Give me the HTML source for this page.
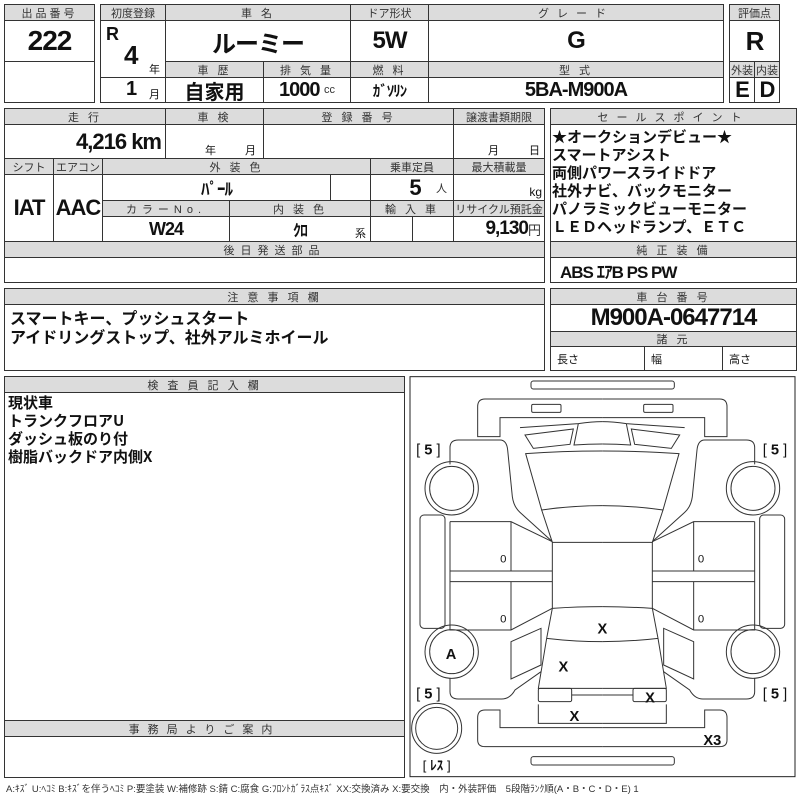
<!DOCTYPE html>
<html><head><meta charset="utf-8">
<style>
*{margin:0;padding:0;box-sizing:border-box}
body{width:800px;height:800px;background:#fff;position:relative;overflow:hidden;font-family:"Liberation Sans","Noto Sans CJK JP",sans-serif;color:#111}
.c{position:absolute;border:1px solid #333;display:flex;align-items:center;justify-content:center;white-space:nowrap;overflow:hidden}
.h{background:#dcdcdc;font-size:11px;color:#333;letter-spacing:3px}
.v{font-family:"Liberation Sans Narrow","Liberation Sans","Noto Sans CJK JP",sans-serif;font-weight:bold;font-size:22px;letter-spacing:-1px}
.s{font-size:11px;font-weight:normal;color:#333;letter-spacing:0}
.t{position:absolute;white-space:nowrap}
.jp{font-family:"Noto Sans CJK JP",sans-serif;font-weight:bold;font-size:16px;line-height:18px}
</style></head><body>
<div class="c h" style="left:4px;top:4px;width:91px;height:17px">出品番号</div>
<div class="c v" style="left:4px;top:20px;width:91px;height:42px;font-size:28px">222</div>
<div class="c" style="left:4px;top:61px;width:91px;height:42px"></div>
<div class="c h" style="left:100px;top:4px;width:66px;height:17px;letter-spacing:0">初度登録</div>
<div class="c h" style="left:165px;top:4px;width:186px;height:17px">車 名</div>
<div class="c h" style="left:350px;top:4px;width:79px;height:17px;letter-spacing:0">ドア形状</div>
<div class="c h" style="left:428px;top:4px;width:296px;height:17px;letter-spacing:8px">グレード</div>
<div class="c" style="left:100px;top:20px;width:66px;height:58px"></div>
<div class="t v" style="left:106px;top:24px;font-size:18px">R</div>
<div class="t v" style="left:124px;top:40px;font-size:26px">4</div>
<div class="t" style="left:149px;top:61px;font-size:11px">年</div>
<div class="c v" style="left:165px;top:20px;width:186px;height:42px;font-size:24px">ルーミー</div>
<div class="c v" style="left:350px;top:20px;width:79px;height:42px;font-size:24px">5W</div>
<div class="c v" style="left:428px;top:20px;width:296px;height:42px;font-size:24px">G</div>
<div class="c h" style="left:165px;top:61px;width:99px;height:17px">車 歴</div>
<div class="c h" style="left:263px;top:61px;width:88px;height:17px">排 気 量</div>
<div class="c h" style="left:350px;top:61px;width:79px;height:17px">燃 料</div>
<div class="c h" style="left:428px;top:61px;width:296px;height:17px">型 式</div>
<div class="c" style="left:100px;top:77px;width:66px;height:26px"></div>
<div class="t v" style="left:126px;top:78px;font-size:20px">1</div>
<div class="t" style="left:149px;top:86px;font-size:11px">月</div>
<div class="c" style="left:165px;top:77px;width:99px;height:26px;font-family:'Noto Sans CJK JP',sans-serif;font-weight:bold;font-size:20px">自家用</div>
<div class="c v" style="left:263px;top:77px;width:88px;height:26px;font-size:20px">1000&nbsp;<span class="s">cc</span></div>
<div class="c v" style="left:350px;top:77px;width:79px;height:26px;font-size:15px;font-family:'Noto Sans CJK JP',sans-serif">ｶﾞｿﾘﾝ</div>
<div class="c v" style="left:428px;top:77px;width:296px;height:26px;font-size:20px">5BA-M900A</div>
<div class="c h" style="left:729px;top:4px;width:51px;height:17px;letter-spacing:0">評価点</div>
<div class="c v" style="left:729px;top:20px;width:51px;height:42px;font-size:26px">R</div>
<div class="c h" style="left:729px;top:61px;width:26px;height:17px;letter-spacing:0">外装</div>
<div class="c h" style="left:754px;top:61px;width:26px;height:17px;letter-spacing:0">内装</div>
<div class="c v" style="left:729px;top:77px;width:26px;height:26px">E</div>
<div class="c v" style="left:754px;top:77px;width:26px;height:26px">D</div>
<div class="c h" style="left:4px;top:108px;width:162px;height:17px">走 行</div>
<div class="c h" style="left:165px;top:108px;width:99px;height:17px">車 検</div>
<div class="c h" style="left:263px;top:108px;width:191px;height:17px">登 録 番 号</div>
<div class="c h" style="left:453px;top:108px;width:92px;height:17px;letter-spacing:0">譲渡書類期限</div>
<div class="c v" style="left:4px;top:124px;width:162px;height:35px;justify-content:flex-end;padding-right:4px">4,216 km</div>
<div class="c" style="left:165px;top:124px;width:99px;height:35px"></div>
<div class="t" style="left:205px;top:142px;font-size:11px">年</div><div class="t" style="left:245px;top:142px;font-size:11px">月</div>
<div class="c" style="left:263px;top:124px;width:191px;height:35px"></div>
<div class="c" style="left:453px;top:124px;width:92px;height:35px"></div>
<div class="t" style="left:488px;top:142px;font-size:11px">月</div><div class="t" style="left:529px;top:142px;font-size:11px">日</div>
<div class="c h" style="left:4px;top:158px;width:50px;height:17px;letter-spacing:0">シフト</div>
<div class="c h" style="left:53px;top:158px;width:50px;height:17px;letter-spacing:0">エアコン</div>
<div class="c h" style="left:102px;top:158px;width:269px;height:17px">外 装 色</div>
<div class="c h" style="left:370px;top:158px;width:84px;height:17px;letter-spacing:0">乗車定員</div>
<div class="c h" style="left:453px;top:158px;width:92px;height:17px;letter-spacing:0">最大積載量</div>
<div class="c v" style="left:4px;top:174px;width:50px;height:68px">IAT</div>
<div class="c v" style="left:53px;top:174px;width:50px;height:68px">AAC</div>
<div class="c v" style="left:102px;top:174px;width:229px;height:27px;font-size:17px;font-family:'Noto Sans CJK JP',sans-serif">ﾊﾟｰﾙ</div>
<div class="c" style="left:330px;top:174px;width:41px;height:27px"></div>
<div class="c v" style="left:370px;top:174px;width:84px;height:27px;justify-content:flex-end;padding-right:6px">5&nbsp;&nbsp;&nbsp;<span class="s">人</span></div>
<div class="c" style="left:453px;top:174px;width:92px;height:27px;justify-content:flex-end;padding:8px 2px 0 0;font-size:12px">kg</div>
<div class="c h" style="left:102px;top:200px;width:128px;height:17px;letter-spacing:5px">カラーNo.</div>
<div class="c h" style="left:229px;top:200px;width:142px;height:17px">内 装 色</div>
<div class="c h" style="left:370px;top:200px;width:84px;height:17px">輸 入 車</div>
<div class="c h" style="left:453px;top:200px;width:92px;height:17px;letter-spacing:0">リサイクル預託金</div>
<div class="c v" style="left:102px;top:216px;width:128px;height:26px;font-size:18px">W24</div>
<div class="c v" style="left:229px;top:216px;width:142px;height:26px;font-size:16px;font-family:'Noto Sans CJK JP',sans-serif">ｸﾛ</div>
<div class="t" style="left:355px;top:225px;font-size:11px">系</div>
<div class="c" style="left:370px;top:216px;width:43px;height:26px"></div>
<div class="c" style="left:412px;top:216px;width:42px;height:26px"></div>
<div class="c v" style="left:453px;top:216px;width:92px;height:26px;justify-content:flex-end;padding-right:3px;font-size:19px">9,130<span class="s" style="font-size:13px">円</span></div>
<div class="c h" style="left:4px;top:241px;width:541px;height:17px;letter-spacing:6px">後日発送部品</div>
<div class="c" style="left:4px;top:257px;width:541px;height:26px"></div>
<div class="c h" style="left:550px;top:108px;width:247px;height:17px;letter-spacing:8px">セールスポイント</div>
<div class="c" style="left:550px;top:124px;width:247px;height:118px"></div>
<div class="t jp" style="left:552px;top:128px;font-size:15px;line-height:18px">★オークションデビュー★<br>スマートアシスト<br>両側パワースライドドア<br>社外ナビ、バックモニター<br>パノラミックビューモニター<br>ＬＥＤヘッドランプ、ＥＴＣ</div>
<div class="c h" style="left:550px;top:241px;width:247px;height:17px">純 正 装 備</div>
<div class="c" style="left:550px;top:257px;width:247px;height:26px;justify-content:flex-start;padding-left:9px"><span class="v" style="font-size:17px">ABS ｴｱB PS PW</span></div>
<div class="c h" style="left:4px;top:288px;width:541px;height:17px">注 意 事 項 欄</div>
<div class="c" style="left:4px;top:304px;width:541px;height:67px"></div>
<div class="t jp" style="left:10px;top:308px;font-size:16px;line-height:19px">スマートキー、プッシュスタート<br>アイドリングストップ、社外アルミホイール</div>
<div class="c h" style="left:550px;top:288px;width:247px;height:17px">車 台 番 号</div>
<div class="c v" style="left:550px;top:304px;width:247px;height:28px;font-size:24px">M900A-0647714</div>
<div class="c h" style="left:550px;top:331px;width:247px;height:16px">諸 元</div>
<div class="c" style="left:550px;top:346px;width:95px;height:25px;justify-content:flex-start;padding-left:6px;font-size:11px">長さ</div>
<div class="c" style="left:644px;top:346px;width:79px;height:25px;justify-content:flex-start;padding-left:6px;font-size:11px">幅</div>
<div class="c" style="left:722px;top:346px;width:75px;height:25px;justify-content:flex-start;padding-left:6px;font-size:11px">高さ</div>
<div class="c h" style="left:4px;top:376px;width:401px;height:17px">検 査 員 記 入 欄</div>
<div class="c" style="left:4px;top:392px;width:401px;height:329px"></div>
<div class="t jp" style="left:8px;top:394px;font-size:15px;line-height:18px">現状車<br>トランクフロアU<br>ダッシュ板のり付<br>樹脂バックドア内側X</div>
<div class="c h" style="left:4px;top:720px;width:401px;height:17px;letter-spacing:8px">事務局よりご案内</div>
<div class="c" style="left:4px;top:736px;width:401px;height:42px"></div>
<div class="t" style="left:6px;top:781px;font-size:9.5px;color:#333;letter-spacing:0">A:ｷｽﾞ U:ﾍｺﾐ B:ｷｽﾞを伴うﾍｺﾐ P:要塗装 W:補修跡 S:錆 C:腐食 G:ﾌﾛﾝﾄｶﾞﾗｽ点ｷｽﾞ XX:交換済み X:要交換　内・外装評価　5段階ﾗﾝｸ順(A・B・C・D・E) 1</div>
<svg style="position:absolute;left:405px;top:375px" width="395" height="425" viewBox="0 0 1185 1275">
<defs>
<g id="L" fill="none" stroke="#333" stroke-width="3">
<circle cx="140" cy="340" r="80"/><circle cx="140" cy="340" r="66"/>
<circle cx="140" cy="830" r="80"/><circle cx="140" cy="830" r="66"/>
<rect x="45" y="420" width="75" height="340" rx="12"/>
<path d="M135,268 V218 Q135,195 160,195 H285 Q305,195 308,225 L322,365 Q326,395 345,412 L442,500"/>
<path d="M135,440 V765 H318 L442,700 M135,440 H318 L442,500 M318,440 V588 M318,620 V765 M135,588 H442 M135,620 H442"/>
<path d="M318,800 L408,760 L408,870 L318,912 Z"/>
<path d="M408,890 L330,945 Q315,972 290,972 H160 Q135,972 135,950 V910"/>
<path d="M592,72 H240 Q218,72 218,95 V185 H285 V128 H592"/>
<rect x="380" y="88" width="88" height="24" rx="4"/>
<path d="M345,158 L520,146 Q560,140 592,140 M520,146 L507,210 Q550,207 592,207"/>
<path d="M360,180 L505,162 L495,208 L385,220 Z"/>
<path d="M592,228 Q470,228 362,236 L410,405 Q500,392 592,392"/>
<path d="M410,405 L442,502 H592"/>
<path d="M442,502 V700 Q520,695 592,695"/>
<path d="M442,700 L425,790 Q510,800 592,800 M425,790 L400,940 H592"/>
<rect x="400" y="940" width="100" height="40" rx="5"/>
<path d="M500,960 H592"/>
<path d="M400,988 V1045 H592"/>
<path d="M592,1058 H285 V1005 H240 Q218,1005 218,1028 V1095 Q218,1115 240,1115 H592"/>
</g>
</defs>
<rect x="15" y="5" width="1155" height="1200" fill="none" stroke="#222" stroke-width="3"/>
<use href="#L"/>
<use href="#L" transform="translate(1184,0) scale(-1,1)"/>
<rect x="378" y="18" width="430" height="24" rx="7" fill="none" stroke="#333" stroke-width="3"/>
<rect x="378" y="1145" width="430" height="25" rx="7" fill="none" stroke="#333" stroke-width="3"/>
<circle cx="95" cy="1060" r="75" fill="none" stroke="#333" stroke-width="3"/>
<circle cx="95" cy="1060" r="63" fill="none" stroke="#333" stroke-width="3"/>
<g font-family="Liberation Sans Narrow, Liberation Sans, Noto Sans CJK JP, sans-serif" font-weight="bold" font-size="44" fill="#111" text-anchor="middle">
<text x="70" y="238" font-weight="normal">[ <tspan font-weight="bold">5</tspan> ]</text>
<text x="1110" y="238" font-weight="normal">[ <tspan font-weight="bold">5</tspan> ]</text>
<text x="70" y="970" font-weight="normal">[ <tspan font-weight="bold">5</tspan> ]</text>
<text x="1110" y="970" font-weight="normal">[ <tspan font-weight="bold">5</tspan> ]</text>
<text x="95" y="1185" font-weight="normal" font-size="40">[ <tspan font-weight="bold">ﾚｽ</tspan> ]</text>
<text x="138" y="852">A</text>
<text x="592" y="775">X</text>
<text x="475" y="890">X</text>
<text x="735" y="982">X</text>
<text x="508" y="1038">X</text>
<text x="922" y="1110">X3</text>
<g font-weight="normal" font-size="34"><text x="295" y="562">0</text><text x="295" y="742">0</text><text x="888" y="562">0</text><text x="888" y="742">0</text></g>
</g>
</svg>
</body></html>
